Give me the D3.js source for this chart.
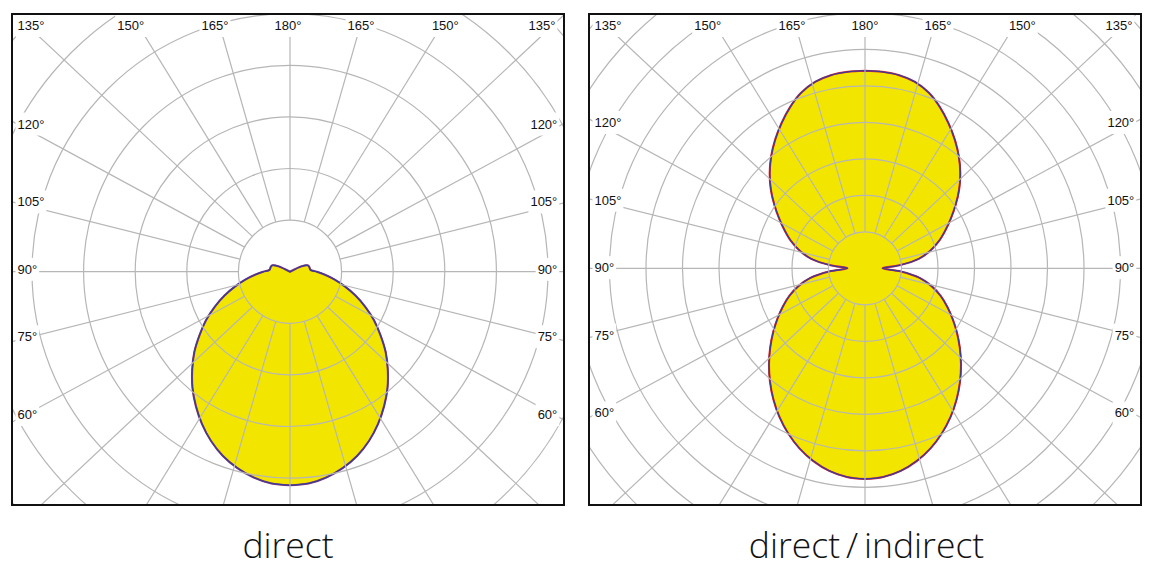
<!DOCTYPE html>
<html>
<head>
  <meta charset="UTF-8">
  <style>
    body { margin: 0; background: #fff; }
    svg { display: block; }
  </style>
</head>
<body>
<svg></svg>
<script src="https://d3js.org/d3.v7.min.js"></script>
<script>

let width = 1159, height = 580;

// gamma angles (deg from nadir) of the measured intensities
const gammas = [0, 5, 10, 15, 20, 25, 30, 35, 40, 45, 50, 55, 60, 65, 70, 75, 80, 85, 90,
                95, 100, 105, 110, 115, 120, 125, 130, 135, 140, 145, 150, 155, 160, 165, 170, 175, 180];

// direct luminaire, cd/klm, C0-C180 and C90-C270 planes
const directC0  = [207, 206, 202.5, 197, 190, 181, 170.5, 159, 147, 134, 121, 107, 94, 80.5, 67.5, 55, 44, 34, 26,
                   20, 19.4, 19.2, 18, 12.5, 0, 0, 0, 0, 0, 0, 0, 0, 0, 0, 0, 0, 0];
const directC90 = [207, 206, 202.5, 197, 190, 181, 170.5, 159, 147, 134, 121, 107, 94, 80.5, 67.5, 55, 44, 34, 26,
                   20, 19.4, 19.2, 18, 12.5, 0, 0, 0, 0, 0, 0, 0, 0, 0, 0, 0, 0, 0];

// direct / indirect luminaire, cd/klm
const diC0  = [288.6, 286.9, 281.8, 273.4, 262.5, 249.3, 234.7, 218.9, 202.5, 186, 169.6, 153.8, 138.6, 124.3, 110.3, 94.5, 76, 49.3, 24,
               47.3, 74.7, 92.5, 107.4, 121, 135.6, 151.6, 168.4, 184.6, 200, 214.7, 229.1, 243.3, 255.8, 264.4, 268.7, 270.2, 270.7];
const diC90 = [288.6, 286.9, 281.8, 273.4, 262.5, 249.3, 234.7, 218.9, 202.5, 186, 169.6, 153.8, 138.6, 124.3, 110.3, 94.5, 76, 49.3, 24,
               47.3, 74.7, 92.5, 107.4, 121, 135.6, 151.6, 168.4, 184.6, 200, 214.7, 229.1, 243.3, 255.8, 264.4, 268.7, 270.2, 270.7];

// grid
const spokeAngles = [0, 15, 30, 45, 60, 75, 90, 105, 120, 135, 150, 165, 180, 195, 210, 225, 240, 255, 270, 285, 300, 315, 330, 345];
const sideTicks = [60, 75, 90, 105, 120];
const topTicks = [135, 150, 165, 180];
const ringStep = 50;

const titles = ["direct", "direct\u2009/\u2009indirect"];

let svg = d3.select("svg")
    .attr("width", width)
    .attr("height", height)
    .attr("viewBox", "0 0 " + width + " " + height);

const SX = 1.067; // spokes of the original are a little wider than the rings
const deg = Math.PI / 180;

let panels = [
    {fx: 12, fy: 14, fw: 552, fh: 491, cx: 290, cy: 271.7, labelY: 269.2, ringPx: 51.6, rings: 7,
     c0: directC0, c90: directC90, title: titles[0]},
    {fx: 589, fy: 14, fw: 552, fh: 491, cx: 865, cy: 268.3, labelY: 267.6, ringPx: 36.5, rings: 10,
     c0: diC0, c90: diC90, title: titles[1]}
];

panels.forEach((p, pi) => {

    let r = d3.scaleLinear().domain([0, ringStep]).range([0, p.ringPx]);

    svg.append("clipPath")
        .attr("id", "clip" + pi)
        .append("rect")
        .attr("x", p.fx).attr("y", p.fy)
        .attr("width", p.fw).attr("height", p.fh);

    let g = svg.append("g").attr("clip-path", "url(#clip" + pi + ")");

    // closed outline: right half 0..180, left half mirrored back down
    function outline(vals) {
        let right = gammas.map((t, i) => [Math.PI - t * deg, r(vals[i])]);
        let left = gammas.slice().reverse().map((t, i) => [Math.PI + t * deg, r(vals[vals.length - 1 - i])]);
        return right.concat(left);
    }
    let radial = d3.lineRadial()
        .angle(d => d[0])
        .radius(d => d[1])
        .curve(d3.curveCatmullRomClosed.alpha(0.5));

    let plot = g.append("g").attr("transform", "translate(" + p.cx + "," + p.cy + ")");

    plot.append("path")
        .attr("d", radial(outline(p.c0)))
        .attr("fill", "#f2e600")
        .attr("stroke", "none");

    // rings
    let ringVals = d3.range(1, p.rings + 1).map(k => k * ringStep);
    g.append("g")
        .selectAll("circle")
        .data(ringVals)
        .enter()
        .append("circle")
        .attr("cx", p.cx).attr("cy", p.cy)
        .attr("r", d => r(d))
        .attr("fill", "none")
        .attr("stroke", "#b6b6b6")
        .attr("stroke-width", 1.2);

    // spokes start on the first ring
    let r1 = r(ringStep);
    g.append("g")
        .selectAll("line")
        .data(spokeAngles)
        .enter()
        .append("line")
        .each(function(t) {
            let dx = SX * Math.sin(t * deg), dy = Math.cos(t * deg);
            let n = Math.hypot(dx, dy);
            d3.select(this)
                .attr("x1", p.cx + r1 * dx / n).attr("y1", p.cy + r1 * dy / n)
                .attr("x2", p.cx + 900 * dx / n).attr("y2", p.cy + 900 * dy / n);
        })
        .attr("stroke", "#b6b6b6")
        .attr("stroke-width", 1.2);

    // outlines of both C planes
    plot.append("path")
        .attr("d", radial(outline(p.c0)))
        .attr("fill", "none")
        .attr("stroke", pi == 0 ? "#8a3a7a" : "#e3262e")
        .attr("stroke-width", 2.1);
    plot.append("path")
        .attr("d", radial(outline(p.c90)))
        .attr("fill", "none")
        .attr("stroke", "#3a3c96")
        .attr("stroke-width", 1.3);

    // tick labels on white boxes
    let labels = g.append("g")
        .attr("font-family", "'Liberation Sans', Arial, sans-serif")
        .attr("font-size", "13px")
        .attr("fill", "#111");

    function label(txt, x, y, anchor) {
        let t = labels.append("text")
            .attr("x", x).attr("y", y)
            .attr("text-anchor", anchor)
            .text(txt + "\u00b0");
        let bb = t.node().getBBox();
        labels.insert("rect", function() { return t.node(); })
            .attr("x", bb.x - 2)
            .attr("y", bb.y - 4)
            .attr("width", bb.width + 4)
            .attr("height", (y + 7) - (bb.y - 4))
            .attr("fill", "white");
    }

    let fcx = p.fx + p.fw / 2;
    sideTicks.forEach(t => {
        let yc = p.labelY + 251.6 * Math.cos(t * deg) / Math.sin(t * deg);
        label(t, p.fx + 5.5, yc + 4.6, "start");
        label(t, p.fx + p.fw - 6.7, yc + 4.6, "end");
    });
    topTicks.forEach(t => {
        let off = 272.5 * Math.tan((180 - t) * deg);
        [-1, 1].forEach(s => {
            if (t == 180 && s == 1) return;
            let x = Math.max(p.fx + 19, Math.min(p.fx + p.fw - 22, fcx + s * off));
            label(t, x, p.fy + 16, "middle");
        });
    });

    // frame
    svg.append("rect")
        .attr("x", p.fx).attr("y", p.fy)
        .attr("width", p.fw).attr("height", p.fh)
        .attr("fill", "none")
        .attr("stroke", "#111")
        .attr("stroke-width", 2);

    svg.append("text")
        .attr("x", fcx + (pi == 1 ? 1.5 : 0))
        .attr("y", 558)
        .attr("text-anchor", "middle")
        .attr("font-family", "'Open Sans', sans-serif")
        .attr("font-weight", 300)
        .attr("font-size", "35.5px")
        .attr("fill", "#111")
        .text(p.title);
});

</script>
</body>
</html>
